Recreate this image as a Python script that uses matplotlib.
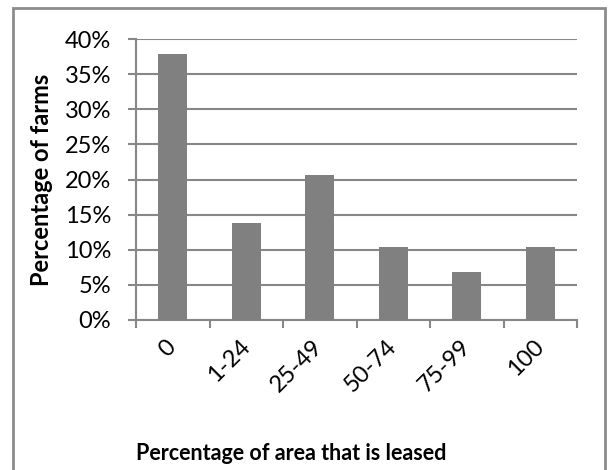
import matplotlib.pyplot as plt
from matplotlib.patches import Rectangle

categories = ["0", "1-24", "25-49", "50-74", "75-99", "100"]
farm_counts = [11, 4, 6, 3, 2, 3]
total_farms = 29
shares = [100.0 * c / total_farms for c in farm_counts]
y_ticks = [0, 5, 10, 15, 20, 25, 30, 35, 40]

plt.rcParams["font.family"] = ["Lato", "DejaVu Sans"]

fig = plt.figure(figsize=(6.08, 4.70), dpi=100)
ax = fig.add_axes([136 / 608, 1 - 320 / 470, (577 - 136) / 608, (320 - 39) / 470])

grey = "#878787"
x = range(len(categories))
ax.bar(x, shares, width=0.4, color="#808080", zorder=3)

ax.set_xlim(-0.5, len(categories) - 0.5)
ax.set_ylim(0, 40)
ax.set_yticks(y_ticks)
ax.set_yticklabels([f"{t}%" for t in y_ticks], fontsize=17)
ax.yaxis.grid(True, color=grey, linewidth=1.5, zorder=0)

# labels sit under each bar, tick marks sit between categories
ax.set_xticks(list(x))
ax.set_xticklabels(categories, rotation=45, ha="right", va="center",
                   rotation_mode="anchor", fontsize=17)
ax.tick_params(axis="x", which="major", length=0, pad=17)
ax.set_xticks([i - 0.5 for i in range(len(categories) + 1)], minor=True)
ax.tick_params(axis="x", which="minor", length=6, width=1.5, color=grey)
ax.tick_params(axis="y", length=6, width=1.5, color=grey, pad=12)

for side in ["top", "right"]:
    ax.spines[side].set_visible(False)
for side in ["left", "bottom"]:
    ax.spines[side].set_color(grey)
    ax.spines[side].set_linewidth(1.5)

ax.set_ylabel("Percentage of farms", fontsize=17, fontweight="bold", va="center")
ax.yaxis.set_label_coords((42 - 136) / 441, 0.5)
fig.text(291 / 608, 1 - 454 / 470, "Percentage of area that is leased",
         ha="center", va="center", fontsize=15.5, fontweight="bold")

# chart border
fig.patches.append(Rectangle((13 / 608, -0.05), (605 - 13) / 608, 1.05 - 8 / 470,
                             transform=fig.transFigure, fill=False,
                             edgecolor="#8c8c8c", linewidth=2))

fig.savefig("out.png", dpi=100)
